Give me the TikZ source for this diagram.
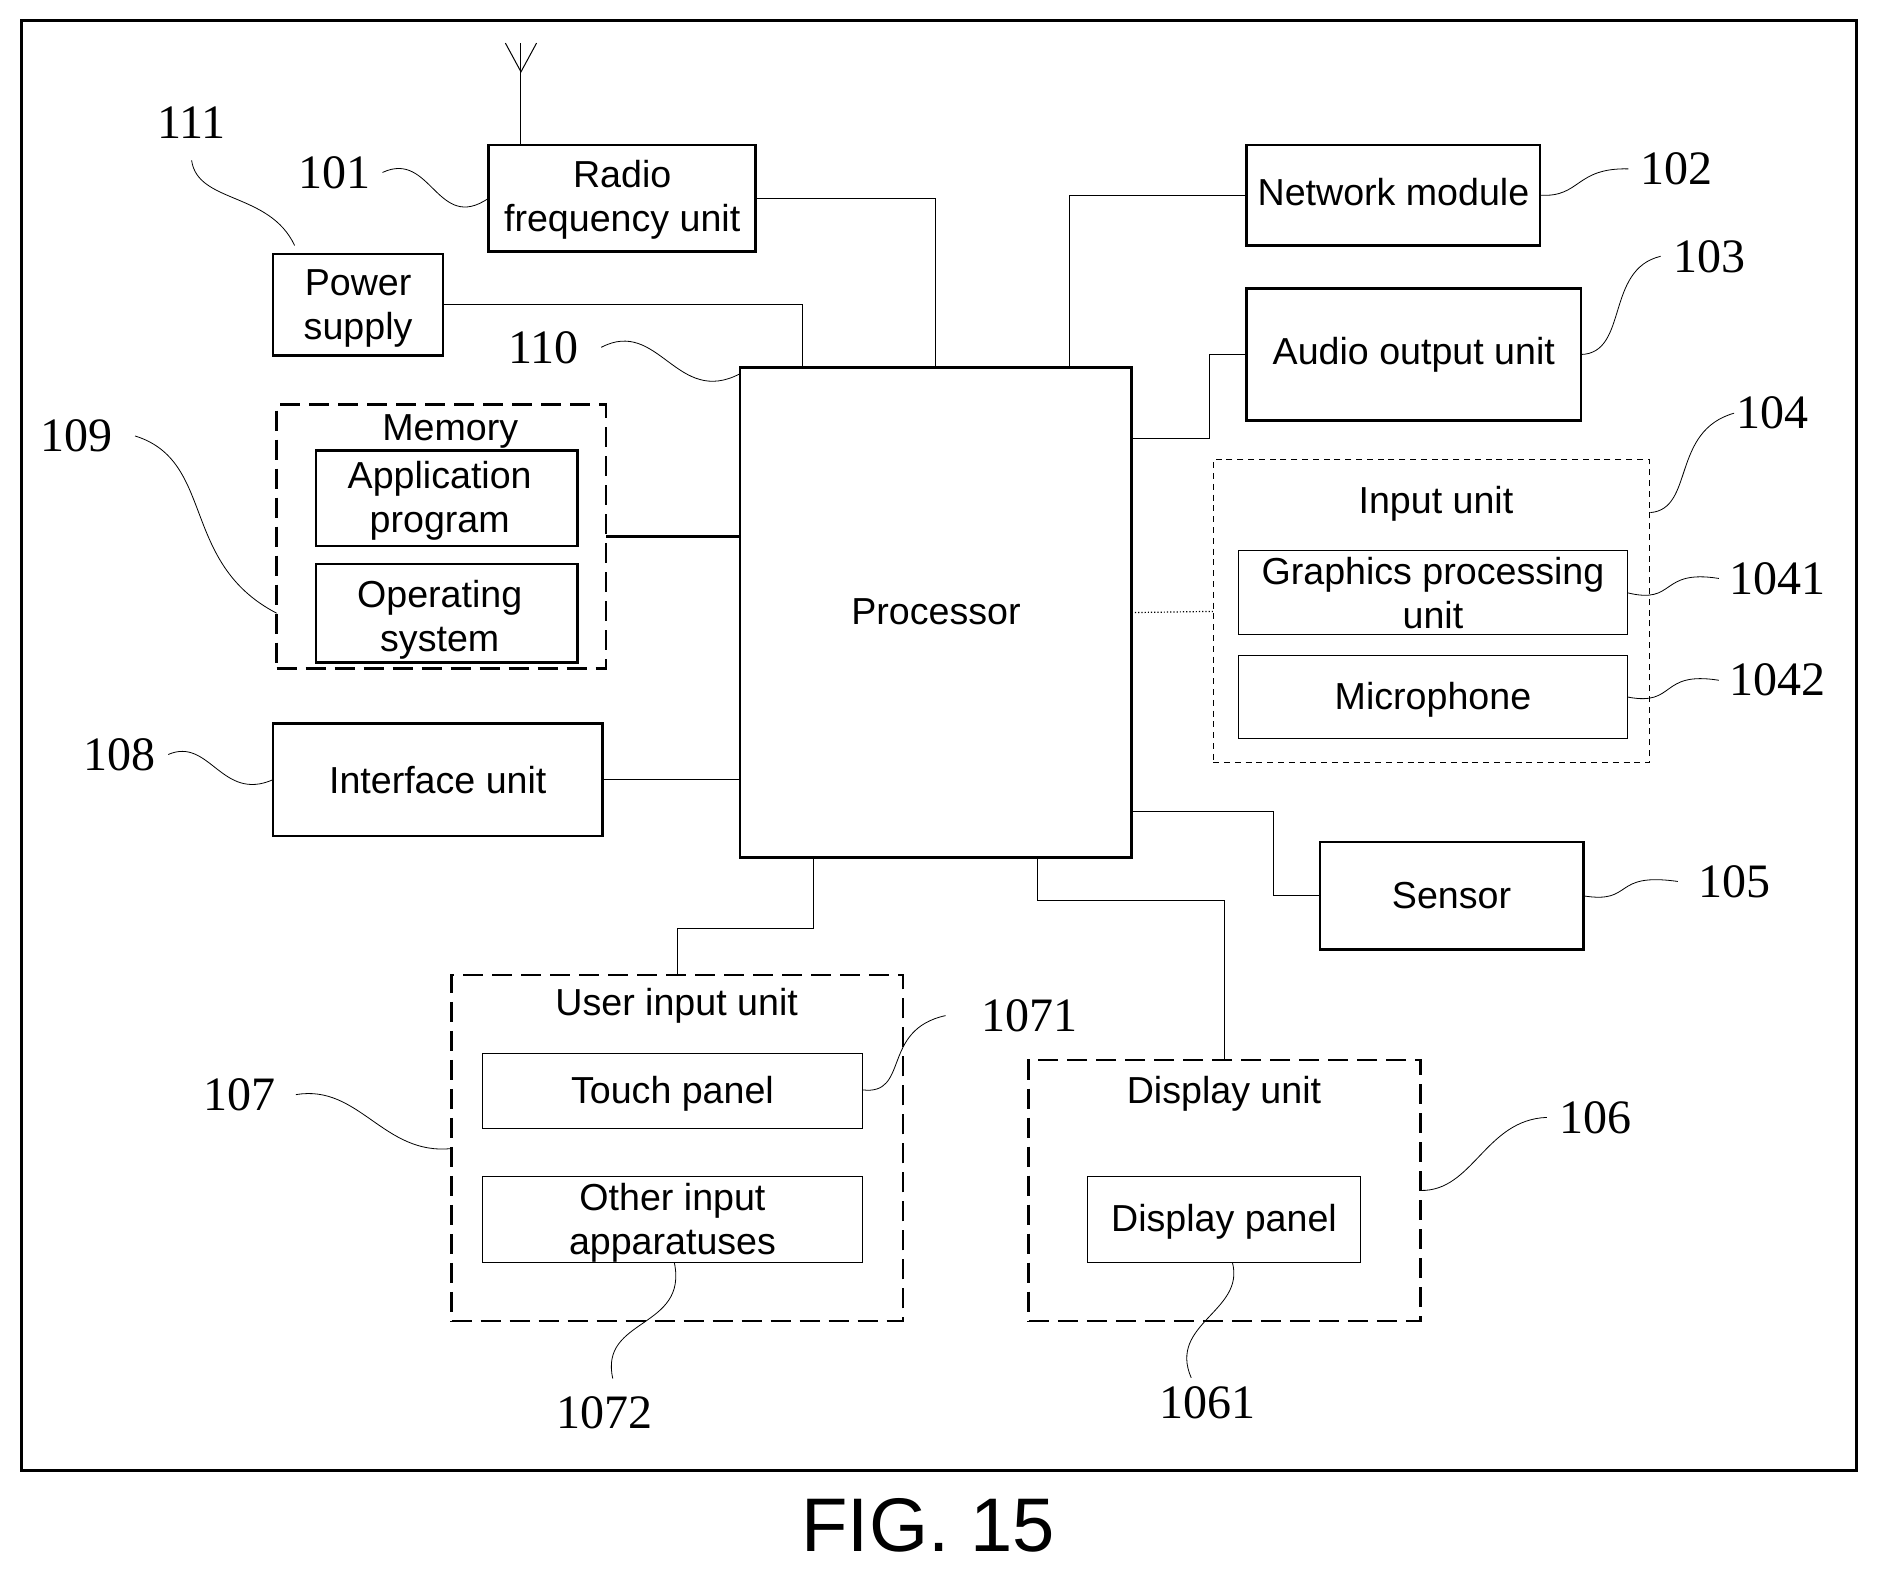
\documentclass[tikz,border=0pt]{standalone}
\usepackage{fontspec}
\setmainfont{Liberation Sans}
\newfontfamily\numfont{Liberation Serif}
\usetikzlibrary{positioning}
\tikzset{boxsize/.style 2 args={minimum width=#1*0.5988pt, minimum height=#2*0.5988pt}}
\tikzstyle{unit} = [
    rectangle, draw=black, line width=1.3pt, inner sep=0pt, outer sep=0pt, align=center,
    font=\fontsize{18.8}{22}\selectfont
]
\tikzstyle{unit_thin} = [
    rectangle, draw=black, line width=0.5pt, inner sep=0pt, outer sep=0pt, align=center,
    font=\fontsize{18.8}{22}\selectfont
]
\tikzstyle{group} = [
    rectangle, draw=black, line width=1.3pt, dash pattern=on 10pt off 4.5pt, inner sep=0pt, outer sep=0pt
]
\tikzstyle{group_thin} = [
    rectangle, draw=black, line width=0.5pt, dash pattern=on 3pt off 2.4pt, inner sep=0pt, outer sep=0pt
]
\tikzstyle{title} = [inner sep=0pt, font=\fontsize{18.8}{22}\selectfont]
\tikzstyle{refnum} = [inner sep=0pt, yshift=-0.6pt, font=\numfont\fontsize{24}{26}\selectfont]
\tikzstyle{wire} = [line width=0.5pt]
\tikzstyle{leader} = [line width=0.4pt]

\begin{document}
\begin{tikzpicture}[x=0.5988pt, y=-0.5988pt]
\useasboundingbox (0,0) rectangle (1568.1,1311.8);
\node (Frame) [rectangle, draw=black, line width=1.4pt, inner sep=0pt, boxsize={1532}{1211}] at (784,622.5) {};

% Units
\node (Radio) [unit, boxsize={223}{89}] at (519.5,165.5) {\rule{0pt}{15.5pt}Radio\\frequency unit};
\node (Network) [unit, text depth=3.6pt, boxsize={245}{84}] at (1163.5,163) {Network module};
\node (Audio) [unit, boxsize={279}{110}] at (1180.5,296) {Audio output unit};
\node (Power) [unit, boxsize={142}{85}] at (299,254.5) {\rule{0pt}{17pt}Power\\supply};
\node (Interface) [unit, boxsize={275}{94}] at (365.5,651) {Interface unit};
\node (Processor) [unit, text depth=1.2pt, boxsize={327}{409}] at (781.5,511.5) {Processor};
\node (Sensor) [unit, boxsize={220}{90}] at (1212,748) {Sensor};

% Groups
\node (Memory) [group, boxsize={275}{220}] at (368.5,448) {};
\node (Memory_t) [title] at (376,360.5) {Memory};
\node (App) [unit, boxsize={218}{80}] at (373,416) {\rule{0pt}{16pt}Application\kern7pt\\program\kern7pt};
\node (OS) [unit, boxsize={218}{82}] at (373,512) {\rule{0pt}{20.6pt}Operating\kern7pt\\system\kern7pt};
\node (Input) [group_thin, boxsize={364}{253}] at (1195,510.5) {};
\node (Input_t) [title] at (1199,421) {Input unit};
\node (GPU) [unit_thin, boxsize={325}{70}] at (1196.5,495) {Graphics processing\\unit};
\node (Mic) [unit_thin, text height=16pt, boxsize={325}{70}] at (1196.5,582) {Microphone};
\node (User) [group, boxsize={377}{289}] at (565.5,958.5) {};
\node (User_t) [title] at (565,840) {User input unit};
\node (Touch) [unit_thin, text height=16pt, boxsize={317}{62}] at (561.5,911) {Touch panel};
\node (Other) [unit_thin, boxsize={317}{72}] at (561.5,1018) {\rule{0pt}{17pt}Other input\\apparatuses};
\node (Disp) [group, boxsize={327}{218}] at (1022.5,994) {};
\node (Disp_t) [title] at (1022,913) {Display unit};
\node (Panel) [unit_thin, text height=16pt, boxsize={228}{72}] at (1022,1018) {Display panel};

% Reference numbers
\node (n111) [refnum] at (160,101) {111};
\node (n101) [refnum] at (279,143) {101};
\node (n110) [refnum] at (454,289) {110};
\node (n109) [refnum] at (64,363) {109};
\node (n108) [refnum] at (100,629) {108};
\node (n102) [refnum] at (1400,140) {102};
\node (n103) [refnum] at (1427,213) {103};
\node (n104) [refnum] at (1480,344) {104};
\node (n1041) [refnum] at (1484,482) {1041};
\node (n1042) [refnum] at (1484,567) {1042};
\node (n105) [refnum] at (1448,735) {105};
\node (n106) [refnum] at (1332,932) {106};
\node (n107) [refnum] at (200,913) {107};
\node (n1071) [refnum] at (860,847) {1071};
\node (n1072) [refnum] at (505,1179) {1072};
\node (n1061) [refnum] at (1008,1170) {1061};
\node (Fig) [inner sep=0pt, font=\fontsize{38}{40}\selectfont] at (775,1274) {FIG. 15};

% Antenna
\coordinate (Ant_b) at (435,121);
\coordinate (Ant_t) at (435,36);
\coordinate (Ant_m) at (435,60);
\coordinate (Ant_l) at (422,36);
\coordinate (Ant_r) at (448,36);
\draw [wire] (Ant_b) -- (Ant_t);
\draw [wire] (Ant_l) -- (Ant_m) -- (Ant_r);

% Connections
\coordinate (P_power) at (670,307);
\coordinate (P_net) at (893,307);
\coordinate (P_audio) at (945,366);
\coordinate (P_sensor) at (945,678);
\coordinate (P_user) at (679,716);
\coordinate (P_disp) at (866,716);
\coordinate (Turn_audio) at (1010,366);
\coordinate (Turn_sensor) at (1063,678);
\coordinate (Turn_user) at (679,775);
\coordinate (Turn_disp) at (866,752);
\draw [wire] (Radio.east) -| (Processor.north);
\draw [wire] (Network.west) -| (P_net);
\draw [wire] (Power.east) -| (P_power);
\draw [wire] (Audio.west) -| (Turn_audio) -- (P_audio);
\draw [line width=1.2pt] (Memory.east) -- (Memory.east -| Processor.west);
\draw [wire] (Interface.east) -- (Interface.east -| Processor.west);
\draw [line width=0.6pt, densely dotted] (Processor.east) -- (Input.west);
\draw [wire] (P_sensor) -- (Turn_sensor) |- (Sensor.west);
\draw [wire] (P_user) -- (Turn_user) -| (User.north);
\draw [wire] (P_disp) -- (Turn_disp) -| (Disp.north);

% Leader lines
\coordinate (L111) at (246,205);
\coordinate (L110) at (618,312);
\coordinate (L109) at (231,512);
\coordinate (L107) at (377,959);
\coordinate (L104) at (1378,428);
\coordinate (L1071) at (720,910);
\coordinate (L1072) at (563,1054);
\coordinate (L1061) at (1029,1054);
\draw [leader] ([yshift=-11pt]n111.south) .. controls (165,170) and (225,160) .. (L111);
\draw [leader] ([xshift=6pt]n101.east) .. controls (360,125) and (365,195) .. (Radio.west);
\draw [leader] ([xshift=11pt]n110.east) .. controls (550,265) and (565,340) .. (L110);
\draw [leader] ([xshift=11pt]n109.east) .. controls (180,385) and (150,470) .. (L109);
\draw [leader] ([xshift=6pt]n108.east) .. controls (175,615) and (185,670) .. (Interface.west);
\draw [leader] (Network.east) .. controls (1320,165) and (1315,140) .. ([xshift=-6pt]n102.west);
\draw [leader] (Audio.east) .. controls (1360,295) and (1340,225) .. ([xshift=-6pt]n103.west);
\draw [leader] (L104) .. controls (1415,425) and (1395,360) .. ([xshift=-1pt]n104.west);
\draw [leader] (GPU.east) .. controls (1400,505) and (1385,475) .. ([xshift=-5pt]n1041.west);
\draw [leader] (Mic.east) .. controls (1400,590) and (1385,560) .. ([xshift=-5pt]n1042.west);
\draw [leader] (Sensor.east) .. controls (1365,755) and (1345,728) .. ([xshift=-10pt]n105.west);
\draw [leader] (Disp.east) .. controls (1230,995) and (1240,935) .. ([xshift=-6pt]n106.west);
\draw [leader] ([xshift=10pt]n107.east) .. controls (300,905) and (320,965) .. (L107);
\draw [leader] (L1071) .. controls (760,915) and (735,860) .. ([xshift=-18pt]n1071.west);
\draw [leader] (L1072) .. controls (575,1110) and (500,1100) .. ([xshift=4pt,yshift=9pt]n1072.north);
\draw [leader] (L1061) .. controls (1040,1095) and (975,1105) .. ([xshift=-8pt,yshift=4pt]n1061.north);
\end{tikzpicture}
\end{document}
